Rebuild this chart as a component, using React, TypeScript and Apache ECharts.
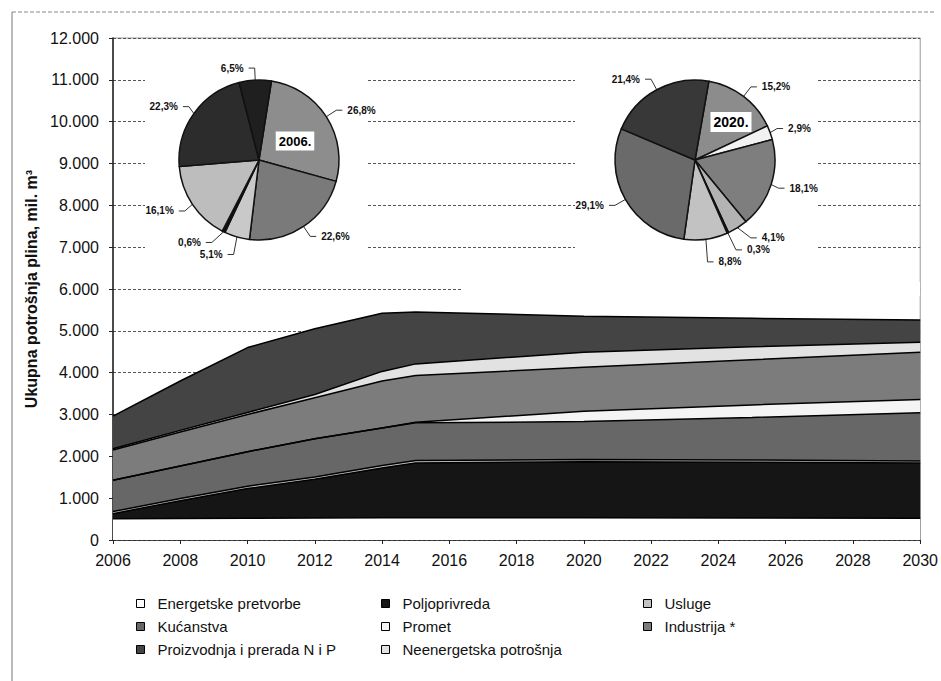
import React, { useEffect, useRef } from "react";
import * as echarts from "echarts";

const years = [2006, 2008, 2010, 2012, 2014, 2015, 2020, 2025, 2030];

const seriesNames = [
  "Energetske pretvorbe",
  "Poljoprivreda",
  "Usluge",
  "Kućanstva",
  "Promet",
  "Industrija *",
  "Neenergetska potrošnja",
  "Proizvodnja i prerada N i P",
];

const energetske = [510, 515, 520, 525, 530, 530, 530, 525, 520];
const poljoprivreda = [120, 425, 710, 925, 1190, 1310, 1340, 1335, 1320];
const usluge = [50, 50, 55, 55, 60, 60, 55, 55, 50];
const kucanstva = [750, 780, 825, 915, 900, 900, 905, 1015, 1150];
const promet = [0, 0, 0, 0, 0, 15, 250, 300, 320];
const industrija = [720, 810, 890, 980, 1120, 1115, 1050, 1080, 1130];
const neenergetska = [30, 40, 50, 80, 230, 280, 360, 310, 240];
const proizvodnja = [780, 1180, 1550, 1570, 1390, 1240, 860, 680, 530];

const seriesValues = [
  energetske,
  poljoprivreda,
  usluge,
  kucanstva,
  promet,
  industrija,
  neenergetska,
  proizvodnja,
];
const seriesColors = [
  "#ffffff",
  "#151515",
  "#c4c4c4",
  "#676767",
  "#f4f4f4",
  "#7c7c7c",
  "#e2e2e2",
  "#444444",
];

const pie2006 = [26.8, 22.6, 5.1, 0.6, 16.1, 22.3, 6.5];
const pie2006Colors = ["#8d8d8d", "#7a7a7a", "#c9c9c9", "#111111", "#bdbdbd", "#2c2c2c", "#1f1f1f"];
const pie2020 = [15.2, 2.9, 18.1, 4.1, 0.3, 8.8, 29.1, 21.4];
const pie2020Colors = ["#8c8c8c", "#f2f2f2", "#7e7e7e", "#b3b3b3", "#111111", "#c2c2c2", "#6a6a6a", "#383838"];

const legendCols = [
  ["Energetske pretvorbe", "Kućanstva", "Proizvodnja i prerada N i P"],
  ["Poljoprivreda", "Promet", "Neenergetska potrošnja"],
  ["Usluge", "Industrija *"],
];

const FONT = "Liberation Sans, Arial, sans-serif";
const NARROW = "Liberation Sans Narrow, Arial Narrow, Liberation Sans, sans-serif";

export default function App() {
  const ref = useRef<HTMLDivElement>(null);
  useEffect(() => {
    if (!ref.current) return;
    const chart = echarts.init(ref.current, undefined, { renderer: "svg" });

    // cumulative totals (stack) computed from the per-series values
    const cumulative: number[][] = [];
    seriesValues.forEach((vals, i) => {
      cumulative.push(vals.map((v, j) => v + (i > 0 ? cumulative[i - 1][j] : 0)));
    });

    const areaSeries = seriesNames
      .map((name, i) => ({
        name,
        type: "line",
        symbol: "none",
        z: 2,
        data: years.map((y, j) => [y, cumulative[i][j]]),
        itemStyle: { color: seriesColors[i] },
        lineStyle: { color: "#000", width: 1.5 },
        areaStyle: { color: seriesColors[i], opacity: 1, origin: 0 },
      }))
      .reverse();

    const pctFmt = (p: any) => p.value.toFixed(1).replace(".", ",") + "%";
    const pieCommon = {
      type: "pie",
      radius: 80,
      z: 5,
      clockwise: true,
      itemStyle: { borderColor: "#111", borderWidth: 1.5 },
      label: {
        show: true,
        position: "outside",
        formatter: pctFmt,
        fontSize: 10,
        fontWeight: "bold",
        fontFamily: NARROW,
        color: "#111",
      },
      labelLine: { show: true, length: 12, length2: 6, lineStyle: { color: "#333", width: 1 } },
      emphasis: { disabled: true },
    };

    const option: any = {
      animation: false,
      backgroundColor: "#ffffff",
      textStyle: { fontFamily: FONT },
      grid: {
        left: 113,
        right: 19,
        top: 38,
        bottom: 141,
        show: true,
        borderColor: "#999",
        borderWidth: 1,
      },
      xAxis: {
        type: "value",
        min: 2006,
        max: 2030,
        interval: 2,
        axisLine: { show: true, lineStyle: { color: "#222", width: 1.5 } },
        axisTick: { show: true, length: 4, lineStyle: { color: "#222" } },
        axisLabel: {
          color: "#111",
          fontSize: 16,
          fontFamily: FONT,
          margin: 12,
          formatter: (v: number) => String(v),
        },
        splitLine: { show: false },
      },
      yAxis: {
        type: "value",
        min: 0,
        max: 12000,
        interval: 1000,
        name: "Ukupna potrošnja plina, mil. m³",
        nameLocation: "middle",
        nameGap: 66,
        nameTextStyle: { fontSize: 16, fontWeight: "bold", color: "#111", fontFamily: FONT },
        axisLine: { show: true, lineStyle: { color: "#222", width: 1.5 } },
        axisTick: { show: true, length: 4, lineStyle: { color: "#222" } },
        axisLabel: {
          color: "#111",
          fontSize: 16,
          fontFamily: FONT,
          margin: 14,
          formatter: (v: number) => (v === 0 ? "0" : v / 1000 + ".000"),
        },
        splitLine: { show: true, lineStyle: { color: "#555", width: 1, type: [3, 2] } },
      },
      legend: legendCols.map((col, i) => ({
        orient: "vertical",
        left: [136, 381, 643][i],
        top: 596,
        itemGap: 8,
        itemWidth: 8,
        itemHeight: 8,
        icon: "rect",
        padding: 0,
        selectedMode: false,
        itemStyle: { borderColor: "#000", borderWidth: 1 },
        textStyle: { fontSize: 15, color: "#111", fontFamily: FONT, padding: [0, 0, 0, 8] },
        data: col,
      })),
      series: [
        ...areaSeries,
        {
          ...pieCommon,
          name: "2006.",
          center: [259, 160],
          startAngle: 81,
          data: pie2006.map((v, i) => ({ value: v, name: "a" + i, itemStyle: { color: pie2006Colors[i] } })),
        },
        {
          ...pieCommon,
          name: "2020.",
          center: [695, 160],
          startAngle: 80,
          data: pie2020.map((v, i) => ({ value: v, name: "b" + i, itemStyle: { color: pie2020Colors[i] } })),
        },
      ],
      graphic: [
        { type: "line", z: 0, shape: { x1: 12, y1: 12, x2: 935, y2: 12 }, style: { stroke: "#888", lineWidth: 1, lineDash: [4, 2] } },
        { type: "line", z: 0, shape: { x1: 12, y1: 12, x2: 12, y2: 681 }, style: { stroke: "#777", lineWidth: 1 } },
        { type: "rect", z: 1, shape: { x: 145, y: 44, width: 223, height: 228 }, style: { fill: "#fff" } },
        { type: "rect", z: 1, shape: { x: 575, y: 44, width: 243, height: 228 }, style: { fill: "#fff" } },
        { type: "rect", z: 1, shape: { x: 463, y: 282, width: 457, height: 14 }, style: { fill: "#fff" } },
        {
          type: "text",
          z: 20,
          x: 295,
          y: 141,
          style: {
            text: "2006.",
            font: "bold 13px " + FONT,
            fill: "#000",
            align: "center",
            verticalAlign: "middle",
            backgroundColor: "#fff",
            padding: [3, 3],
          },
        },
        {
          type: "text",
          z: 20,
          x: 731,
          y: 122,
          style: {
            text: "2020.",
            font: "bold 14px " + FONT,
            fill: "#000",
            align: "center",
            verticalAlign: "middle",
            backgroundColor: "#fff",
            padding: [3, 3],
          },
        },
      ],
    };

    chart.setOption(option);
    return () => chart.dispose();
  }, []);

  return (
    <div
      ref={ref}
      style={{ position: "fixed", left: 0, top: 0, width: 941, height: 681, background: "#fff" }}
    />
  );
}
